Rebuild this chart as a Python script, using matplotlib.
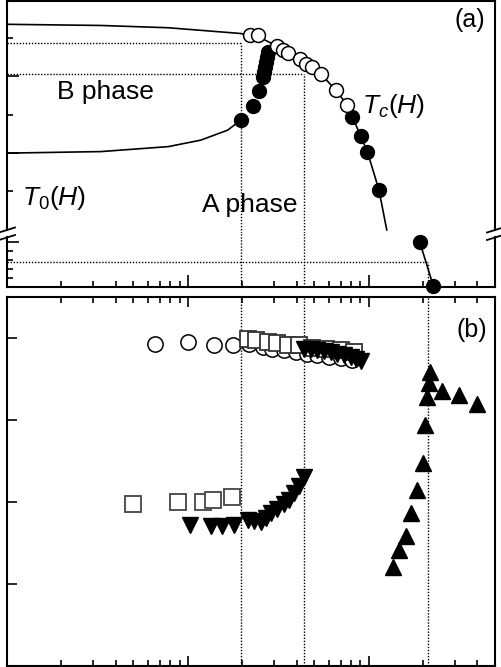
import numpy as np
import matplotlib
matplotlib.use("Agg")
import matplotlib.pyplot as plt
from matplotlib.ticker import LogLocator, NullFormatter, FixedLocator, NullLocator

plt.rcParams.update({
    "font.family": ["Liberation Sans", "DejaVu Sans"],
    "mathtext.fontset": "custom",
    "mathtext.rm": "Liberation Sans",
    "mathtext.it": "Liberation Sans:italic",
    "axes.linewidth": 1.5,
})

# --------------------------------------------------------------------------- #
# panel (a): phase diagram (upper T range + broken low-T range)
# --------------------------------------------------------------------------- #
tc_open_h = [2.21, 2.43, 3.10, 3.34, 3.58, 4.16, 4.49, 4.88, 5.43, 6.57, 7.62]
tc_open_t = [5.07, 5.07, 4.79, 4.70, 4.61, 4.44, 4.33, 4.25, 4.07, 3.64, 3.25]

fill_h = [1.96, 2.28, 2.48, 2.62, 2.64, 2.66, 2.70, 2.73, 2.76, 8.13, 9.03, 9.84, 11.4]
fill_t = [2.85, 3.22, 3.62, 3.97, 4.12, 4.25, 4.38, 4.51, 4.64, 2.94, 2.44, 2.03, 1.03]

low_fill_h = [19.2, 22.8]
low_fill_t = [4.97, 0.11]

tc_line_h = [0.10, 0.33, 0.78, 1.96, 2.21, 2.43, 3.10, 3.58, 4.16, 4.88, 5.43,
             6.57, 7.62, 8.13, 9.03, 9.84, 11.4, 12.6]
tc_line_t = [5.36, 5.33, 5.27, 5.12, 5.07, 5.05, 4.79, 4.61, 4.44, 4.25, 4.07,
             3.64, 3.25, 2.94, 2.44, 2.03, 1.03, -0.02]

t0_line_h = [0.10, 0.33, 0.78, 1.18, 1.66, 1.96]
t0_line_t = [1.99, 2.03, 2.16, 2.33, 2.59, 2.85]

# guide lines (fields / temperatures)
H_1, H_2, H_3 = 1.96, 4.37, 21.2
T_1, T_2 = 4.86, 4.05      # upper section
T_LOW = 2.78               # lower section

# --------------------------------------------------------------------------- #
# panel (b)
# --------------------------------------------------------------------------- #
circ_h = [0.657, 1.00, 1.40, 1.78, 2.18, 2.59, 2.94, 3.40, 3.95, 4.59, 5.21,
          6.03, 7.00, 8.13]
circ_y = [3.93, 3.95, 3.91, 3.91, 3.93, 3.89, 3.87, 3.85, 3.83, 3.81, 3.79,
          3.77, 3.76, 3.73]

sq_hi_h = [2.14, 2.37, 2.76, 3.13, 3.60, 4.12, 4.88, 5.78, 7.00, 8.29]
sq_hi_y = [3.99, 3.98, 3.95, 3.94, 3.91, 3.92, 3.88, 3.87, 3.85, 3.83]
sq_lo_h = [0.50, 0.877, 1.22, 1.37, 1.75]
sq_lo_y = [1.98, 2.00, 2.00, 2.03, 2.06]

dn_hi_h = [4.39, 4.78, 5.21, 5.66, 6.17, 6.71, 7.31, 7.95, 8.47, 9.03]
dn_hi_y = [3.87, 3.87, 3.85, 3.84, 3.83, 3.81, 3.79, 3.77, 3.75, 3.72]
dn_lo_h = [1.03, 1.34, 1.55, 1.80, 2.14, 2.33, 2.53, 2.70, 2.87, 3.13, 3.40,
           3.63, 3.87, 4.12, 4.39]
dn_lo_y = [1.72, 1.71, 1.71, 1.72, 1.78, 1.77, 1.76, 1.80, 1.86, 1.92, 1.98,
           2.03, 2.11, 2.19, 2.31]

up_h = [13.7, 14.7, 16.0, 17.1, 18.6, 20.0, 20.6, 21.1, 21.5, 21.8, 25.3, 31.5, 39.8]
up_y = [1.21, 1.41, 1.58, 1.86, 2.15, 2.47, 2.94, 3.28, 3.45, 3.59, 3.35, 3.30, 3.19]

XLIM = (0.1, 50)

W, H = 502, 667
fig = plt.figure(figsize=(W / 100, H / 100), dpi=100)


def px_box(x0, y0, x1, y1):
    return [x0 / W, 1 - y1 / H, (x1 - x0) / W, (y1 - y0) / H]


axA = fig.add_axes(px_box(7, 1, 495, 233))
axA2 = fig.add_axes(px_box(7, 233, 495, 287))
axB = fig.add_axes(px_box(7, 297, 495, 666))

for ax in (axA, axA2, axB):
    ax.set_xscale("log")
    ax.set_xlim(*XLIM)
    ax.xaxis.set_major_locator(LogLocator(base=10, numticks=10))
    ax.xaxis.set_minor_locator(LogLocator(base=10, subs=np.arange(2, 10), numticks=20))
    ax.xaxis.set_minor_formatter(NullFormatter())
    ax.tick_params(which="both", direction="in", labelleft=False,
                   labelbottom=False, right=False, width=1.2)
    ax.tick_params(which="major", length=8.5)
    ax.tick_params(which="minor", length=4.3)

axA.set_ylim(-0.1, 5.97)
axA2.set_ylim(0, 6)
axB.set_ylim(0, 4.5)

axA.tick_params(axis="x", which="both", bottom=False, top=False)
axA2.tick_params(axis="x", which="both", bottom=True, top=False)
axB.tick_params(axis="x", which="both", bottom=True, top=True)
axB.tick_params(axis="x", which="major", length=7.5)

axA.yaxis.set_major_locator(FixedLocator([2, 4]))
axA.yaxis.set_minor_locator(FixedLocator([1, 3, 5]))
axA2.yaxis.set_major_locator(FixedLocator([5]))
axA2.yaxis.set_minor_locator(FixedLocator([1, 2, 3, 4]))
axB.yaxis.set_major_locator(FixedLocator([1, 2, 3, 4]))
axB.yaxis.set_minor_locator(NullLocator())
axB.tick_params(axis="y", which="major", length=7.5)

# broken axis: spines
axA.spines["bottom"].set_visible(False)
axA2.spines["top"].set_visible(False)
for s in ("left", "right"):
    axA.spines[s].set_bounds(-0.02, 5.97)
    axA2.spines[s].set_bounds(0, 5.56)

# break slashes (in pixels around each side spine)
for xs in (7, 495):
    for ys in (230, 237.5):
        fig.add_artist(plt.Line2D([(xs - 8) / W, (xs + 8) / W],
                                  [1 - (ys + 2.5) / H, 1 - (ys - 2.5) / H],
                                  color="black", lw=1.3))

dot = dict(color="black", ls=(0, (1, 1.2)), lw=1.0, zorder=1)
MS_A = 10

# panel (a) upper
axA.plot([XLIM[0], H_1], [T_1, T_1], **dot)
axA.plot([H_1, H_1], [-0.1, T_1], **dot)
axA.plot([XLIM[0], H_2], [T_2, T_2], **dot)
axA.plot([H_2, H_2], [-0.1, T_2], **dot)
axA.plot(tc_line_h, tc_line_t, color="black", lw=1.2, zorder=2)
axA.plot(t0_line_h, t0_line_t, color="black", lw=1.2, zorder=2)
axA.plot(fill_h, fill_t, "o", ms=MS_A, mfc="black", mec="black", zorder=3)
axA.plot(tc_open_h, tc_open_t, "o", ms=MS_A, mfc="white", mec="black", mew=1.1, zorder=4)

axA.text(0.102, 0.576, "B phase", transform=axA.transAxes, fontsize=19,
         ha="left", va="baseline")
axA.text(0.40, 0.09, "A phase", transform=axA.transAxes, fontsize=19,
         ha="left", va="baseline")
axA.text(0.727, 0.517, r"$\mathit{T_c(H)}$", transform=axA.transAxes,
         fontsize=19, ha="left", va="baseline")
axA.text(0.031, 0.121, r"$\mathit{T_0(H)}$", transform=axA.transAxes,
         fontsize=19, ha="left", va="baseline")
axA.text(0.98, 0.918, "(a)", transform=axA.transAxes, fontsize=18,
         ha="right", va="center")

# panel (a) lower
axA2.plot([H_1, H_1], [0, 6], **dot)
axA2.plot([H_2, H_2], [0, 6], **dot)
axA2.plot([XLIM[0], H_3], [T_LOW, T_LOW], **dot)
axA2.plot([H_3, H_3], [0, T_LOW], **dot)
axA2.plot(low_fill_h, low_fill_t, color="black", lw=1.2, zorder=2, clip_on=False)
axA2.plot(low_fill_h, low_fill_t, "o", ms=MS_A, mfc="black", mec="black",
          zorder=3, clip_on=False)

# panel (b)
for h in (H_1, H_2, H_3):
    axB.plot([h, h], [0, 4.5], **dot)
axB.plot(circ_h, circ_y, "o", ms=11, mfc="white", mec="black", mew=1.1, ls="none", zorder=2)
axB.plot(sq_hi_h, sq_hi_y, "s", ms=11, mfc="white", mec="#333333", mew=1.3, ls="none", zorder=3)
axB.plot(sq_lo_h, sq_lo_y, "s", ms=11, mfc="white", mec="#444444", mew=1.3, ls="none", zorder=3)
axB.plot(dn_hi_h, dn_hi_y, "v", ms=11, mfc="black", mec="black", ls="none", zorder=4)
axB.plot(dn_lo_h, dn_lo_y, "v", ms=11, mfc="black", mec="black", ls="none", zorder=4)
axB.plot(up_h, up_y, "^", ms=11.5, mfc="black", mec="black", ls="none", zorder=4)
axB.text(0.984, 0.911, "(b)", transform=axB.transAxes, fontsize=18,
         ha="right", va="center")

fig.savefig("out.png", dpi=100)
